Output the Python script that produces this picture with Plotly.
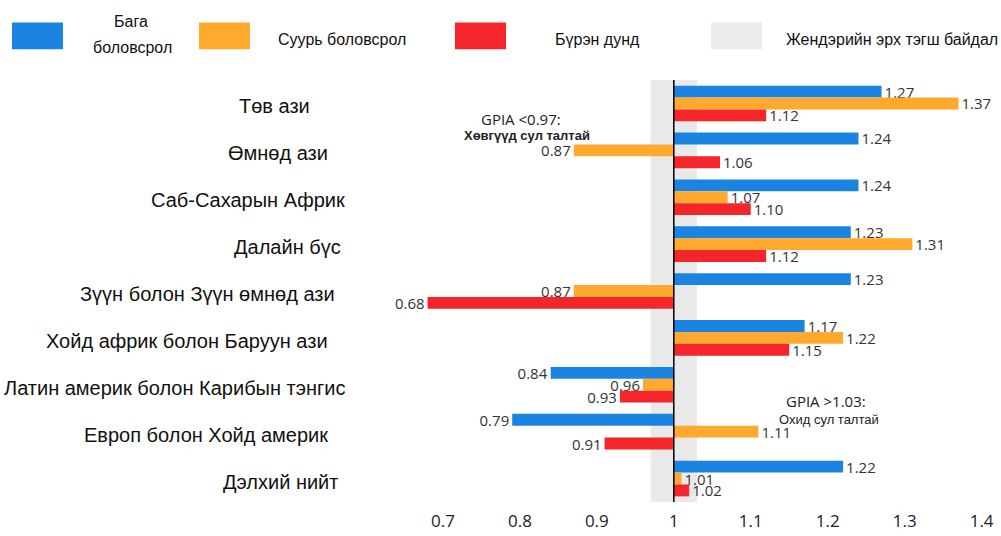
import plotly.graph_objects as go

# regions (top to bottom)
regions = [
    "Төв ази",
    "Өмнөд ази",
    "Саб-Сахарын Африк",
    "Далайн бүс",
    "Зүүн болон Зүүн өмнөд ази",
    "Хойд африк болон Баруун ази",
    "Латин америк болон Карибын тэнгис",
    "Европ болон Хойд америк",
    "Дэлхий нийт",
]
# GPIA values per education level
primary = [1.27, 1.24, 1.24, 1.23, 1.23, 1.17, 0.84, 0.79, 1.22]
lower_secondary = [1.37, 0.87, 1.07, 1.31, 0.87, 1.22, 0.96, 1.11, 1.01]
upper_secondary = [1.12, 1.06, 1.10, 1.12, 0.68, 1.15, 0.93, 0.91, 1.02]

series_names = ["Бага боловсрол", "Суурь боловсрол", "Бүрэн дунд"]
colors = ["#1b84e3", "#ffa92e", "#f5262b"]
parity_band = [0.97, 1.03]
parity_name = "Жендэрийн эрх тэгш байдал"
x_ticks = [0.7, 0.8, 0.9, 1.0, 1.1, 1.2, 1.3, 1.4]
x_tick_text = ["0.7", "0.8", "0.9", "1", "1.1", "1.2", "1.3", "1.4"]

num_font = "Open Sans, DejaVu Sans, sans-serif"
lab_font = "Liberation Sans, Arial, sans-serif"

W, H = 1001, 536
L, R, T, B = 366, 4, 80, 31
# right edge (page px) of each region label, the original is a bit ragged
label_right = [312, 330, 347, 343, 337, 330, 347, 330, 340]


# page pixels -> paper coords (helpers for the hand-drawn legend / notes)
def px(x):
    return (x - L) / (W - L - R)


def py(y):
    return (H - B - y) / (H - T - B)


fig = go.Figure()
for name, vals, col in zip(series_names, [primary, lower_secondary, upper_secondary], colors):
    fig.add_trace(go.Bar(
        y=regions,
        x=[v - 1 for v in vals],
        base=1,
        orientation="h",
        name=name,
        marker=dict(color=col, line=dict(width=0)),
        text=["%.2f" % v for v in vals],
        textposition="outside",
        constraintext="none",
        cliponaxis=False,
        textfont=dict(family=num_font, size=15, color="#333333"),
        showlegend=False,
    ))

# parity band and the line at 1
fig.add_shape(type="rect", xref="x", yref="paper", x0=parity_band[0], x1=parity_band[1],
              y0=0, y1=1, fillcolor="#e9e9e9", line=dict(width=0), layer="below")
fig.add_shape(type="line", xref="x", yref="paper", x0=1, x1=1, y0=0, y1=1,
              line=dict(color="black", width=1.5), layer="above")

# legend drawn by hand (large swatches)
swatches = [(colors[0], 12), (colors[1], 199), (colors[2], 455), ("#ebebeb", 711)]
for col, sx in swatches:
    fig.add_shape(type="rect", xref="paper", yref="paper", x0=px(sx), x1=px(sx + 51),
                  y0=py(49), y1=py(22), fillcolor=col, line=dict(width=0))

legend_texts = [
    ("Бага", 131, 21),
    ("боловсрол", 132, 47),
    (series_names[1], 342, 39),
    (series_names[2], 597, 39),
    (parity_name, 892, 39),
]
annotations = []
for text, tx, ty in legend_texts:
    annotations.append(dict(
        xref="paper", yref="paper", x=px(tx), y=py(ty),
        text=text, showarrow=False, xanchor="center", yanchor="middle",
        font=dict(family=lab_font, size=16, color="#111111"),
    ))

# region labels, placed on the category axis
for reg, rx in zip(regions, label_right):
    annotations.append(dict(
        xref="paper", yref="y", x=px(rx), y=reg, yshift=-3,
        text=reg, showarrow=False, xanchor="right", yanchor="middle",
        font=dict(family=lab_font, size=20, color="#111111"),
    ))

notes = [
    ("GPIA <0.97:", 521, 119, num_font, 15, False),
    ("Хөвгүүд сул талтай", 527, 136, lab_font, 13, True),
    ("GPIA >1.03:", 826, 403, num_font, 15, False),
    ("Охид сул талтай", 829, 422, lab_font, 13, False),
]
for text, tx, ty, fam, size, bold in notes:
    annotations.append(dict(
        xref="paper", yref="paper", x=px(tx), y=py(ty),
        text="<b>%s</b>" % text if bold else text, showarrow=False,
        xanchor="center", yanchor="middle",
        font=dict(family=fam, size=size, color="#222222"),
    ))

fig.update_layout(
    width=W,
    height=H,
    margin=dict(l=L, r=R, t=T, b=B),
    barmode="group",
    bargap=0.24,
    bargroupgap=0,
    plot_bgcolor="white",
    paper_bgcolor="white",
    annotations=annotations,
    xaxis=dict(range=[0.6, 1.42], tickvals=x_ticks, ticktext=x_tick_text,
               showgrid=False, zeroline=False, showline=False,
               ticklabelstandoff=7,
               tickfont=dict(family=num_font, size=17, color="#222222")),
    yaxis=dict(autorange="reversed", showgrid=False, zeroline=False, showline=False,
               showticklabels=False),
)

# body margin off so the figure sits at the window's top-left corner
fig.write_html("out.html", config={"displayModeBar": False},
               post_script="document.body.style.margin='0px';")
